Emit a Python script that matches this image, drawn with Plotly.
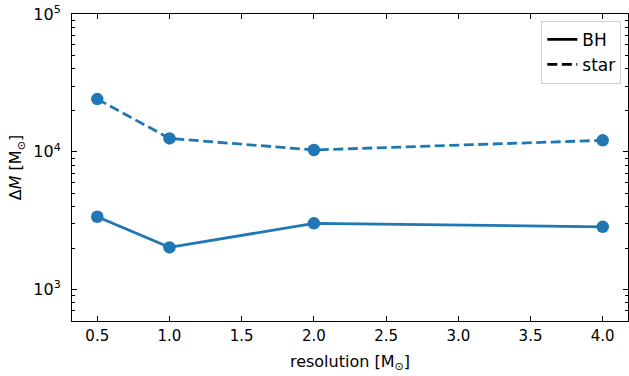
import plotly.graph_objects as go

resolution = [0.5, 1.0, 2.0, 4.0]
bh_mass = [3370, 2020, 3020, 2850]
star_mass = [24100, 12500, 10300, 12100]
y_tick_vals = [1e3, 1e4, 1e5]
y_tick_text = ["10<sup>3</sup>", "10<sup>4</sup>", "10<sup>5</sup>"]
x_tick_vals = [0.5, 1.0, 1.5, 2.0, 2.5, 3.0, 3.5, 4.0]

color = "#1f77b4"
font = "DejaVu Sans"

fig = go.Figure()
fig.add_trace(go.Scatter(x=resolution, y=bh_mass, mode="lines+markers",
                         line=dict(color=color, width=2.8),
                         marker=dict(size=12.5, color=color), showlegend=False))
fig.add_trace(go.Scatter(x=resolution, y=star_mass, mode="lines+markers",
                         line=dict(color=color, width=2.8, dash="10px,4.5px"),
                         marker=dict(size=12.5, color=color), showlegend=False))
# legend entries (black lines)
fig.add_trace(go.Scatter(x=[None], y=[None], mode="lines", name="BH",
                         line=dict(color="black", width=2.8)))
fig.add_trace(go.Scatter(x=[None], y=[None], mode="lines", name="star",
                         line=dict(color="black", width=2.8, dash="10px,4.5px")))

minor_vals = []
for d in [100, 1000, 10000]:
    for k in range(2, 10):
        v = k * d
        if 590 < v < 1e5:
            minor_vals.append(v)

fig.update_layout(
    width=629, height=376,
    margin=dict(l=72, r=1, t=14, b=55),
    plot_bgcolor="white", paper_bgcolor="white",
    font=dict(family=font, size=15, color="black"),
    legend=dict(x=0.988, y=0.978, xanchor="right", yanchor="top",
                bgcolor="white", bordercolor="#d0d0d0", borderwidth=1,
                font=dict(size=17), itemwidth=30, tracegroupgap=2),
    xaxis=dict(range=[0.325, 4.175], tickvals=x_tick_vals, tickformat=".1f",
               ticks="inside", ticklen=5, tickwidth=1, tickcolor="black",
               showline=True, linecolor="black", linewidth=1.1, mirror="ticks",
               showgrid=False, zeroline=False, tickfont=dict(size=15),
               title=dict(text="resolution [M<sub>⊙</sub>]", font=dict(size=16), standoff=11),
               ticklabelstandoff=1),
    yaxis=dict(type="log", range=[2.771, 5.0], tickvals=y_tick_vals, ticktext=y_tick_text,
               ticks="inside", ticklen=5, tickwidth=1, tickcolor="black",
               showline=True, linecolor="black", linewidth=1.1, mirror="ticks",
               showgrid=False, zeroline=False,
               minor=dict(tickmode="array", tickvals=minor_vals, ticks="inside",
                          ticklen=3, tickwidth=1, tickcolor="black", showgrid=False),
               title=dict(text="Δ<i>M</i> [M<sub>⊙</sub>]", font=dict(size=16), standoff=7),
               ticklabelstandoff=7, tickfont=dict(size=16)),
)

fig.write_html("out.html")
